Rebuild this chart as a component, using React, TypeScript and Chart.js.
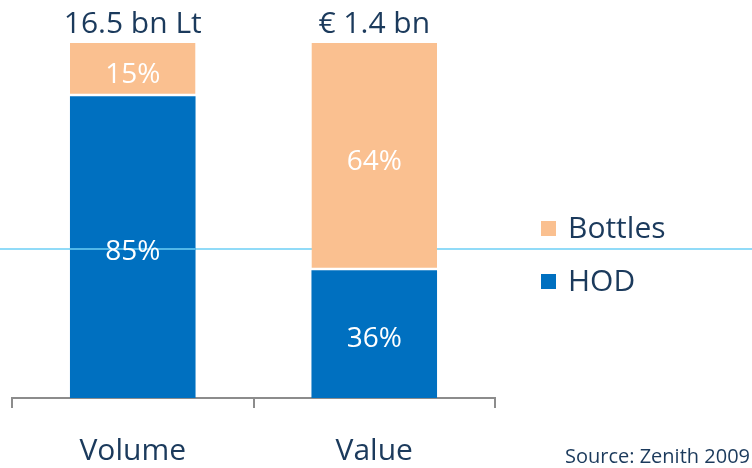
import React, { useEffect, useRef } from "react";
import { Chart, registerables } from "chart.js";

Chart.register(...registerables);

const CATEGORIES = ["Volume", "Value"];
const HOD_VALUES = [85, 36];
const BOTTLES_VALUES = [15, 64];
const TOTAL_LABELS = ["16.5 bn Lt", "€ 1.4 bn"];
const SERIES_NAMES = ["HOD", "Bottles"];
const REF_LINE_VALUE = 42;
const SOURCE_TEXT = "Source: Zenith 2009";

const NAVY = "#1B3A5C";
const BLUE = "#0070C0";
const PEACH = "#FAC090";
const GRAY = "#8C8C8C";
const LINE_BLUE = "#6CCFF6";
const FONT = "'Open Sans', sans-serif";

const overlayPlugin = {
  id: "overlay",
  beforeDatasetsDraw(chart: any) {
    const ctx = chart.ctx;
    const y = chart.scales.y.getPixelForValue(REF_LINE_VALUE);
    ctx.save();
    ctx.strokeStyle = LINE_BLUE;
    ctx.lineWidth = 1.5;
    ctx.beginPath();
    ctx.moveTo(0, y);
    ctx.lineTo(chart.width, y);
    ctx.stroke();
    ctx.restore();
  },
  afterDatasetsDraw(chart: any) {
    const ctx = chart.ctx;
    const y = chart.scales.y.getPixelForValue(REF_LINE_VALUE);
    const first: any = chart.getDatasetMeta(0).data[0];
    ctx.save();
    // reference line passes over the first bar
    ctx.strokeStyle = LINE_BLUE;
    ctx.lineWidth = 1.5;
    ctx.beginPath();
    ctx.moveTo(first.x - first.width / 2, y);
    ctx.lineTo(first.x + first.width / 2, y);
    ctx.stroke();

    // percentage labels
    ctx.fillStyle = "#FFFFFF";
    ctx.font = `28px ${FONT}`;
    ctx.textAlign = "center";
    ctx.textBaseline = "alphabetic";
    chart.data.datasets.forEach((ds: any, di: number) => {
      const meta = chart.getDatasetMeta(di);
      meta.data.forEach((el: any, i: number) => {
        const cy = (el.y + el.base) / 2;
        ctx.fillText(`${ds.data[i]}%`, el.x, cy + 13);
      });
    });

    // totals above bars
    ctx.fillStyle = NAVY;
    ctx.font = `30px ${FONT}`;
    const topMeta = chart.getDatasetMeta(chart.data.datasets.length - 1);
    topMeta.data.forEach((el: any, i: number) => {
      ctx.fillText(TOTAL_LABELS[i], el.x, el.y - 10);
    });

    // legend (reverse order: Bottles on top)
    const area = chart.chartArea;
    const lx = area.right + 46;
    const rows = [...chart.data.datasets].reverse();
    ctx.textAlign = "left";
    rows.forEach((ds: any, r: number) => {
      const baseY = 238 + r * 53;
      ctx.fillStyle = ds.backgroundColor;
      ctx.fillRect(lx, baseY - 17, 15, 15);
      ctx.fillStyle = NAVY;
      ctx.font = `30px ${FONT}`;
      ctx.fillText(ds.label, lx + 27, baseY);
    });

    // source note
    ctx.font = `20px ${FONT}`;
    ctx.textAlign = "right";
    ctx.fillText(SOURCE_TEXT, chart.width - 2, chart.height - 5);
    ctx.restore();
  },
};

export default function App() {
  const canvasRef = useRef<HTMLCanvasElement>(null);

  useEffect(() => {
    document.body.style.margin = "0";
    const canvas = canvasRef.current;
    if (!canvas) return;
    const chart = new Chart(canvas, {
      type: "bar",
      data: {
        labels: CATEGORIES,
        datasets: [
          {
            label: SERIES_NAMES[0],
            data: HOD_VALUES,
            backgroundColor: BLUE,
            borderWidth: 0,
          },
          {
            label: SERIES_NAMES[1],
            data: BOTTLES_VALUES,
            backgroundColor: PEACH,
            borderColor: "#FFFFFF",
            borderWidth: { top: 0, left: 0, right: 0, bottom: 2.5 } as any,
            borderSkipped: false as any,
          },
        ],
      },
      options: {
        responsive: false,
        animation: false,
        maintainAspectRatio: false,
        layout: { padding: { left: 12, right: 257, top: 43, bottom: 0 } },
        datasets: {
          bar: { barPercentage: 1, categoryPercentage: 0.52 },
        },
        plugins: {
          legend: { display: false },
          tooltip: { enabled: false },
        },
        scales: {
          x: {
            stacked: true,
            offset: true,
            z: 1,
            afterFit: (s: any) => {
              s.height = 70;
            },
            grid: {
              offset: true,
              drawOnChartArea: false,
              drawTicks: true,
              tickLength: 10,
              color: GRAY,
              lineWidth: 2,
            },
            border: { display: true, color: GRAY, width: 2 },
            ticks: {
              color: NAVY,
              font: { family: FONT, size: 30 },
              padding: 25,
            },
          },
          y: {
            stacked: true,
            display: false,
            min: 0,
            max: 100,
          },
        },
      },
      plugins: [overlayPlugin],
    });
    return () => chart.destroy();
  }, []);

  return (
    <div style={{ width: 752, height: 468 }}>
      <canvas ref={canvasRef} width={752} height={468} />
    </div>
  );
}
